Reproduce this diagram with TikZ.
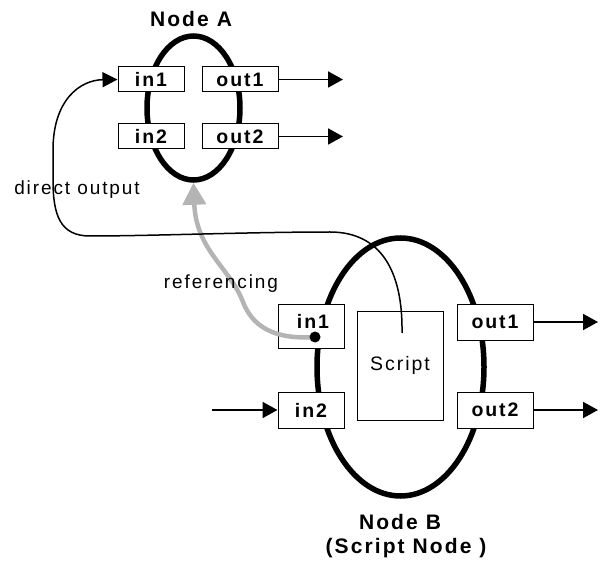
\documentclass[tikz,border=0pt]{standalone}
\usepackage{fontspec}
\setmainfont{Liberation Sans}
\newfontfamily\lbl[LetterSpace=10]{Liberation Sans}
\usetikzlibrary{arrows.meta,shapes.geometric}
\begin{document}
\begin{tikzpicture}[x=1pt,y=-1pt,
  port/.style={draw,line width=1pt,fill=white,inner sep=0pt,font=\lbl\bfseries\fontsize{19.5}{21}\selectfont},
  portlabel/.style={inner sep=0pt,font=\lbl\bfseries\fontsize{19.5}{21}\selectfont},
  ring/.style={draw,ellipse,line width=5.5pt,inner sep=0pt},
  flow/.style={line width=1.9pt,-{Triangle[length=15pt,width=16pt]}},
  directline/.style={line width=1.5pt,-{Triangle[length=15pt,width=15pt]}},
  refline/.style={line width=4.5pt,draw={rgb,255:red,180;green,180;blue,180},-{Triangle[length=22pt,width=23pt]}},
  title/.style={font=\lbl\bfseries\fontsize{21}{24}\selectfont},
  plain/.style={font=\lbl\fontsize{19}{21}\selectfont}]
\useasboundingbox (0,0) rectangle (602,569);
% rings
\node[ring,minimum width=93pt,minimum height=144pt] (eA) at (193.5,108) {};
\node[ring,minimum width=167pt,minimum height=258pt] (eB) at (400.5,367) {};
% node A ports
\node[port,minimum width=66pt,minimum height=25pt] (in1A) at (151,79.5) {in1};
\node[port,minimum width=76pt,minimum height=25pt] (out1A) at (240,79.5) {out1};
\node[port,minimum width=66pt,minimum height=25pt] (in2A) at (151,136.5) {in2};
\node[port,minimum width=76pt,minimum height=25pt] (out2A) at (240,136.5) {out2};
% node B ports
\node[port,minimum width=66pt,minimum height=44pt] (in1B) at (311,326) {};
\node[portlabel] (in1Bt) at (313,321) {in1};
\node[port,minimum width=66pt,minimum height=36pt] (in2B) at (311,410) {in2};
\node[port,minimum width=76pt,minimum height=36pt] (out1B) at (495,322) {out1};
\node[port,minimum width=76pt,minimum height=36pt] (out2B) at (495,410) {out2};
\node[draw,line width=1pt,fill=white,minimum width=86pt,minimum height=109pt,inner sep=0pt,font=\lbl\fontsize{19.5}{21}\selectfont] (scr) at (400,365.5) {Script};
% referencing
\coordinate (dp) at (315,337);
\draw[refline] (dp) .. controls (272,340) and (252,325) .. (243,302) .. controls (230,268) and (196,250) .. (eA.south);
\node[circle,fill=black,inner sep=0pt,minimum size=11pt] (dot) at (dp) {};
% direct output
\coordinate (s0) at (402,333);
\draw[directline] (s0) .. controls (403,270) and (380,232) .. (330,232) .. controls (250,232) and (150,236) .. (90,236) .. controls (60,236) and (53,215) .. (53,180) -- (53,150) .. controls (53,100) and (80,80) .. (in1A.west);
% flow arrows
\coordinate (tA1) at (343,79.5);
\coordinate (tA2) at (343,136.5);
\coordinate (tB1) at (598,322);
\coordinate (tB2) at (598,410);
\coordinate (sB) at (212,410);
\draw[flow] (out1A.east) -- (tA1);
\draw[flow] (out2A.east) -- (tA2);
\draw[flow] (out1B.east) -- (tB1);
\draw[flow] (out2B.east) -- (tB2);
\draw[flow] (sB) -- (in2B.west);
% texts
\node[title] (lA) at (191,19) {Node A};
\node[title] (lB) at (400,522) {Node B};
\node[title] (lB2) at (406,548) {(Script Node )};
\node[plain] (ldo) at (77,190) {direct output};
\node[plain] (lref) at (221,284) {referencing};
\end{tikzpicture}
\end{document}
